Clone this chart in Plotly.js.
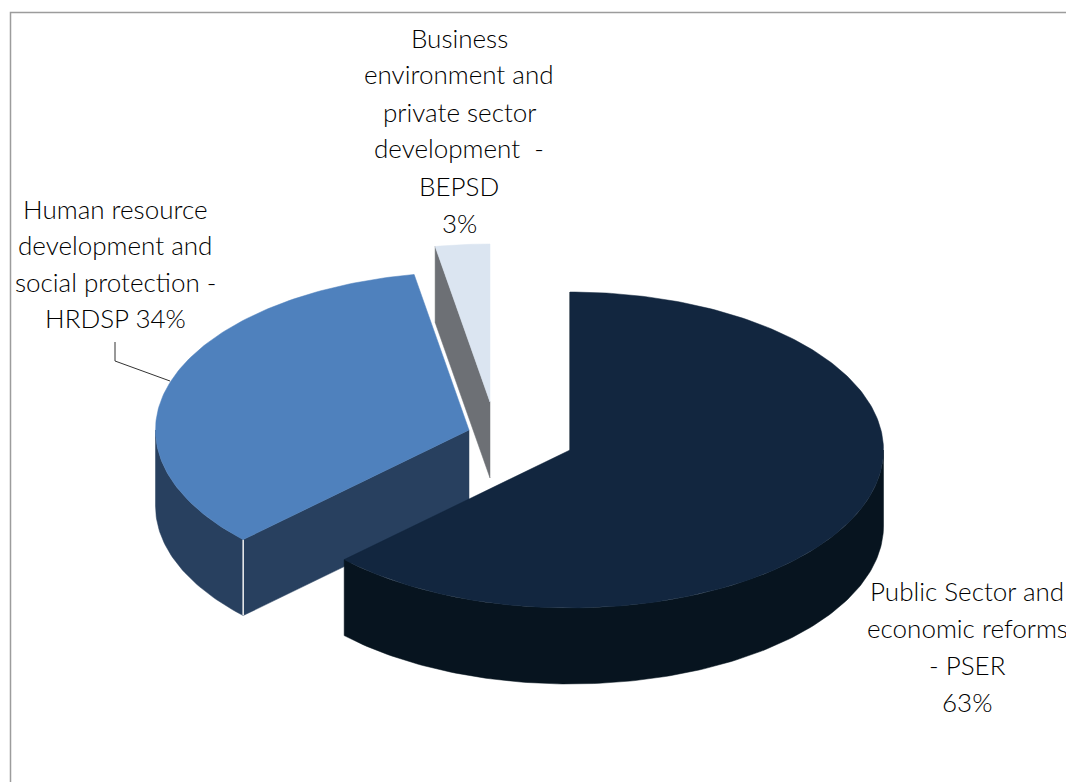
<!DOCTYPE html>
<html><head><meta charset="utf-8">
<script src="https://cdn.plot.ly/plotly-3.0.1.min.js"></script>
<style>html,body{margin:0;padding:0;background:#fff;overflow:hidden}</style>
</head><body><div id="chart" style="width:1066px;height:782px"></div>
<script>
// Data
const categories = ['PSER', 'HRDSP', 'BEPSD'];
const shares = [62.8, 34.4, 2.8];
const topColors = ['#12263F', '#4F81BD', '#DBE5F1'];
const wallColors = ['#07141F', '#28405F', '#6D7075'];
const labelPSER = ['Public Sector and', 'economic reforms', '- PSER', '63%'];
const labelHRDSP = ['Human resource', 'development and', 'social protection -', 'HRDSP 34%'];
const labelBEPSD = ['Business', 'environment and', 'private sector', 'development  -', 'BEPSD', '3%'];

// Projection of the tilted pie onto the axes
const rx = 313.5, ry = 158, depth = 76;
const centers = [[570, 450], [469, 430], [490, 402]];
const drawOrder = [2, 1, 0];

const total = shares.reduce((a, b) => a + b, 0);
let cum = 0;
const slices = shares.map((v, i) => {
  const a0 = cum / total * 2 * Math.PI; cum += v;
  return {i, a0, a1: cum / total * 2 * Math.PI};
});
function pt(c, a, dz) { return [c[0] + rx * Math.sin(a), c[1] - ry * Math.cos(a) + (dz || 0)]; }
function arc(c, a0, a1, dz) {
  const n = Math.max(4, Math.ceil((a1 - a0) * 60)), out = [];
  for (let k = 0; k <= n; k++) out.push(pt(c, a0 + (a1 - a0) * k / n, dz));
  return out;
}
function poly(points, color, name) {
  return {type: 'scatter', mode: 'lines', x: points.map(p => p[0]).concat(points[0][0]),
    y: points.map(p => p[1]).concat(points[0][1]), fill: 'toself', fillcolor: color,
    line: {color: color, width: 0.5}, name: name, hoverinfo: 'name', showlegend: false};
}
const traces = [];
drawOrder.forEach(idx => {
  const s = slices[idx], c = centers[idx], nm = categories[idx];
  // outer wall: only the front-facing part of the rim
  const f0 = Math.max(s.a0, Math.PI / 2), f1 = Math.min(s.a1, 3 * Math.PI / 2);
  if (f1 > f0) {
    const topRim = arc(c, f0, f1, 0), botRim = arc(c, f0, f1, depth).reverse();
    traces.push(poly(topRim.concat(botRim), wallColors[idx], nm));
  }
  // cut wall at the start of the slice
  const p = pt(c, s.a0, 0);
  traces.push(poly([c, p, [p[0], p[1] + depth], [c[0], c[1] + depth]], wallColors[idx], nm));
  // white seam between walls on the blue slice
  if (idx === 1) {
    traces.push({type: 'scatter', mode: 'lines', x: [p[0], p[0]], y: [p[1], p[1] + depth],
      line: {color: '#F2F2F2', width: 1.5}, hoverinfo: 'skip', showlegend: false});
  }
  // top face
  traces.push(poly([c].concat(arc(c, s.a0, s.a1, 0)), topColors[idx], nm));
});

// Leader line of the HRDSP label
traces.push({type: 'scatter', mode: 'lines', x: [115, 115, 170], y: [342, 361, 381],
  line: {color: '#333333', width: 1}, hoverinfo: 'skip', showlegend: false});

const annotations = [];
function addLabel(lines, cx, ys) {
  lines.forEach((t, k) => annotations.push({
    x: cx, y: ys[k], xref: 'x', yref: 'y', text: t, showarrow: false,
    xanchor: 'center', yanchor: 'middle', font: {family: 'Lato, sans-serif', size: 26, color: '#000000', weight: 300}
  }));
}
addLabel(labelPSER, 967, [591, 628, 665, 702]);
addLabel(labelHRDSP, 115, [209, 245, 282, 318]);
addLabel(labelBEPSD, 459, [38, 74, 112, 148, 186, 223]);

const layout = {
  width: 1066, height: 782, margin: {l: 0, r: 0, t: 0, b: 0},
  paper_bgcolor: '#fff', plot_bgcolor: '#fff', showlegend: false,
  xaxis: {range: [0, 1066], visible: false, fixedrange: true},
  yaxis: {range: [782, 0], visible: false, fixedrange: true},
  shapes: [{type: 'rect', xref: 'x', yref: 'y', x0: 10.5, y0: 12.5, x1: 1100, y1: 820,
    line: {color: '#9C9C9C', width: 1.5}, layer: 'below'}],
  annotations: annotations
};
Plotly.newPlot('chart', traces, layout, {displayModeBar: false, staticPlot: true});
</script></body></html>
